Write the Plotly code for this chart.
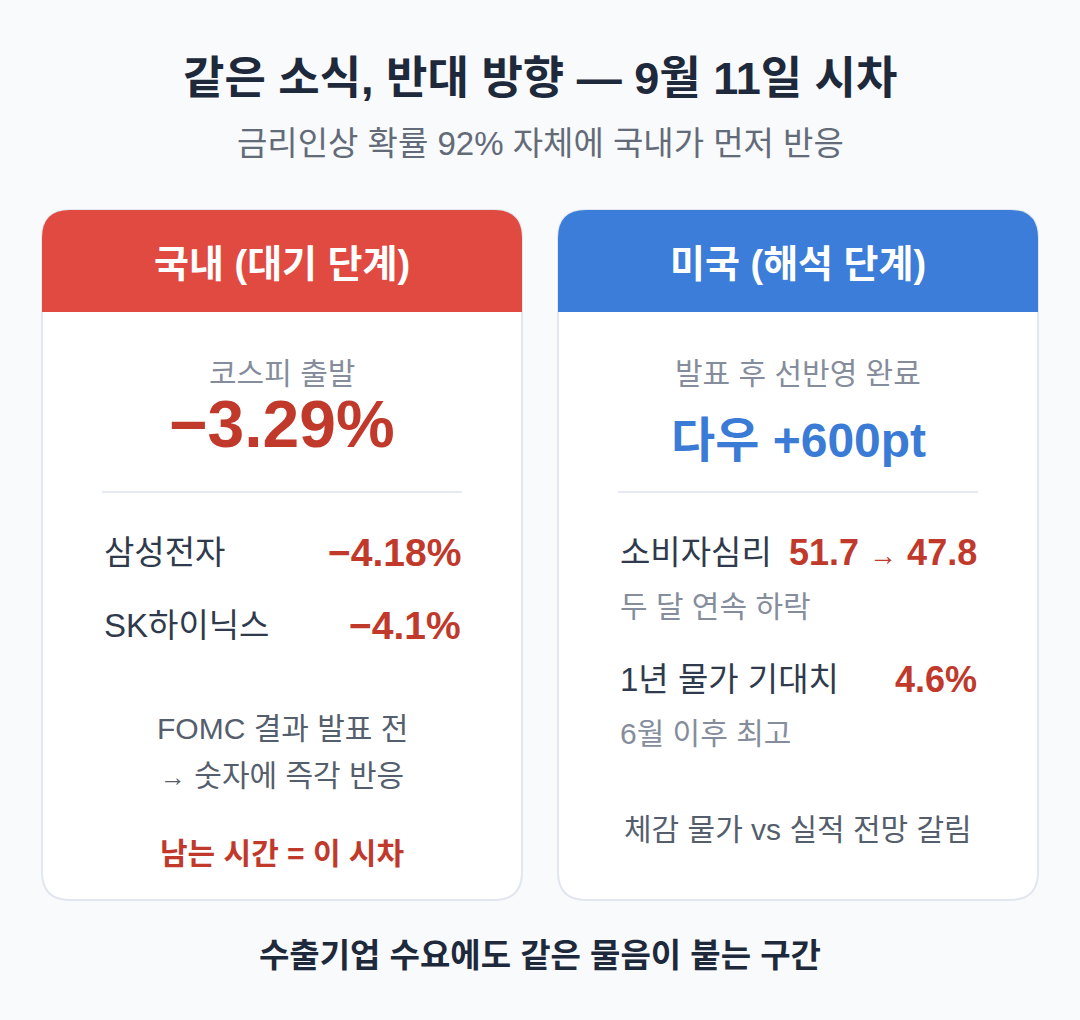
import plotly.graph_objects as go

# ---------------- data ----------------
title = "같은 소식, 반대 방향 — 9월 11일 시차"
subtitle = "금리인상 확률 92% 자체에 국내가 먼저 반응"
footer = "수출기업 수요에도 같은 물음이 붙는 구간"

card_titles = ["국내 (대기 단계)", "미국 (해석 단계)"]

kospi_label = "코스피 출발"
kospi_change = -3.29

kr_stocks = ["삼성전자", "SK하이닉스"]
kr_changes = [-4.18, -4.1]
kr_notes = ["FOMC 결과 발표 전", "→ 숫자에 즉각 반응"]
kr_highlight = "남는 시간 = 이 시차"

us_label = "발표 후 선반영 완료"
dow_name = "다우"
dow_change = 600

sentiment_label = "소비자심리"
sentiment_values = [51.7, 47.8]
sentiment_note = "두 달 연속 하락"
infl_label = "1년 물가 기대치"
infl_value = 4.6
infl_note = "6월 이후 최고"
us_footer = "체감 물가 vs 실적 전망 갈림"

# ---------------- style ----------------
W, H = 1080, 1020
FONT = "Liberation Sans, Arial, Noto Sans CJK KR, sans-serif"
BG = "#f8fafc"
RED_HDR = "#e04a40"
BLUE_HDR = "#3b7dd8"
RED_TXT = "#c0392b"
BLUE_TXT = "#3a7bd6"
DARK = "#1e293b"
ROW = "#2f3a4c"
GRAY = "#858d9c"
NOTE = "#555e6c"
BORDER = "#e2e6ee"


def minus(v, nd):
    s = f"{abs(v):.{nd}f}"
    return ("\u2212" if v < 0 else "+") + s


def rrect(x0, y0, x1, y1, r, top_only=False):
    # y grows downward (axis reversed)
    if top_only:
        return (f"M{x0},{y1} L{x0},{y0 + r} Q{x0},{y0} {x0 + r},{y0} "
                f"L{x1 - r},{y0} Q{x1},{y0} {x1},{y0 + r} L{x1},{y1} Z")
    return (f"M{x0},{y0 + r} Q{x0},{y0} {x0 + r},{y0} L{x1 - r},{y0} Q{x1},{y0} {x1},{y0 + r} "
            f"L{x1},{y1 - r} Q{x1},{y1} {x1 - r},{y1} L{x0 + r},{y1} Q{x0},{y1} {x0},{y1 - r} Z")


fig = go.Figure()
shapes = []
ann = []


def text(x, y, s, size, color, bold=False, anchor="center"):
    ann.append(dict(x=x, y=y, xref="x", yref="y", text=(f"<b>{s}</b>" if bold else s),
                    showarrow=False, xanchor=anchor, yanchor="middle",
                    font=dict(family=FONT, size=size, color=color)))


cards = [(42, 522, RED_HDR), (558, 1038, BLUE_HDR)]
top, hdr_bot, bot, rad = 210, 312, 900, 28
for (x0, x1, c), t in zip(cards, card_titles):
    shapes.append(dict(type="path", path=rrect(x0, top, x1, bot, rad), xref="x", yref="y",
                       fillcolor="white", line=dict(color=BORDER, width=2), layer="below"))
    shapes.append(dict(type="path", path=rrect(x0, top, x1, hdr_bot, rad, top_only=True),
                       xref="x", yref="y", fillcolor=c, line=dict(width=0), layer="below"))
    cx = (x0 + x1) / 2
    text(cx, 264, t, 38, "white", bold=True)
    shapes.append(dict(type="line", x0=x0 + 60, x1=x1 - 60, y0=492, y1=492, xref="x", yref="y",
                       line=dict(color="#e6e9f0", width=2)))

# titles
text(540, 78, title, 45, DARK, bold=True)
text(540, 143, subtitle, 33, "#646b78")
text(540, 955, footer, 33, DARK, bold=True)

ARROW = "<span style='font-size:{}px'>→</span>"

# left card
lx0, lx1 = 102, 463
lcx = 282
text(lcx, 373, kospi_label, 30, GRAY)
text(lcx, 424, minus(kospi_change, 2) + "%", 66, RED_TXT, bold=True)
for i, (nm, v) in enumerate(zip(kr_stocks, kr_changes)):
    y = 552 + i * 73
    text(lx0, y, nm, 33, ROW, anchor="left")
    nd = len(str(abs(v)).split(".")[1])
    text(lx1, y, minus(v, nd) + "%", 39, RED_TXT, bold=True, anchor="right")
text(lcx, 728, kr_notes[0], 30, NOTE)
text(lcx, 775, kr_notes[1].replace("→", ARROW.format(26)), 30, NOTE)
text(lcx, 853, kr_highlight, 30, RED_TXT, bold=True)

# right card
rx0, rx1 = 618, 979
rcx = 798
text(rcx, 373, us_label, 30, GRAY)
text(rcx, 440, f"{dow_name} +{dow_change}pt", 48, BLUE_TXT, bold=True)
text(rx0, 552, sentiment_label, 33, ROW, anchor="left")
text(rx1, 552, f"<b>{sentiment_values[0]}</b> {ARROW.format(28)} <b>{sentiment_values[1]}</b>",
     36, RED_TXT, anchor="right")
text(rx0, 606, sentiment_note, 30, GRAY, anchor="left")
text(rx0, 679, infl_label, 33, ROW, anchor="left")
text(rx1, 679, f"{infl_value}%", 36, RED_TXT, bold=True, anchor="right")
text(rx0, 733, infl_note, 30, GRAY, anchor="left")
text(rcx, 829, us_footer, 30, NOTE)

fig.update_layout(
    width=W, height=H, margin=dict(l=0, r=0, t=0, b=0),
    paper_bgcolor=BG, plot_bgcolor=BG,
    xaxis=dict(range=[0, W], visible=False, fixedrange=True),
    yaxis=dict(range=[H, 0], visible=False, fixedrange=True),
    shapes=shapes, annotations=ann, showlegend=False,
)
fig.write_html("out.html", config={"displayModeBar": False},
               post_script=f"document.body.style.margin='0';document.body.style.background='{BG}';")
